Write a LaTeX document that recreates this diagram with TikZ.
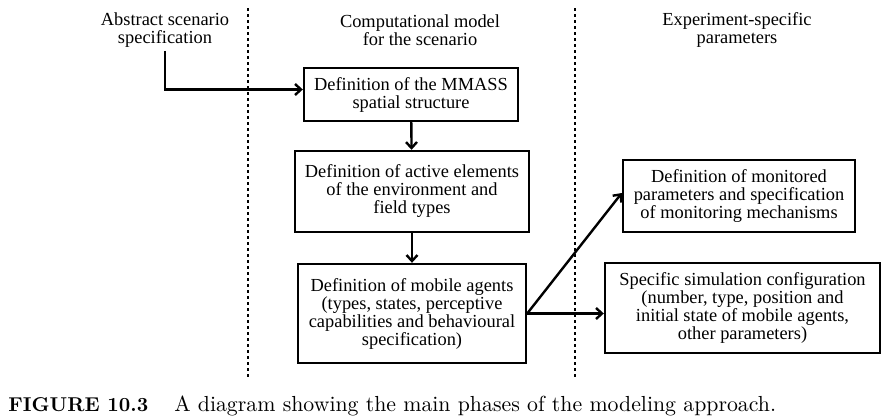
\documentclass[tikz,border=0pt]{standalone}
\usepackage{xcolor}
\usepackage{fontspec}
\usetikzlibrary{arrows.meta}
\newfontfamily\diagfont{Liberation Serif}

\tikzset{
  phase/.style={draw, line width=2.4pt, align=center, inner sep=2pt,
    font=\diagfont\fontsize{18.4}{18}\selectfont},
  header/.style={align=center, font=\diagfont\fontsize{18.4}{18}\selectfont},
  flow/.style={line width=2.4pt, -{Straight Barb[length=6pt,width=11pt]}},
  border/.style={line width=2.6pt, dash pattern=on 3.3pt off 2.7pt}
}

\begin{document}
\begin{tikzpicture}[x=1pt,y=-1pt]
\useasboundingbox (0,0) rectangle (884,418);

\node[header] (abstract) at (165,30) {Abstract scenario\\specification};
\node[header] (model) at (420,30) {Computational model\\for the scenario};
\node[header] (experiment) at (737,30) {Experiment-specific\\parameters};

\coordinate (sepAtop) at (248,8);
\coordinate (sepAbot) at (248,378);
\coordinate (sepBtop) at (575,8);
\coordinate (sepBbot) at (575,378);
\draw[border] (sepAtop) -- (sepAbot);
\draw[border] (sepBtop) -- (sepBbot);

\node[phase, minimum width=214pt, minimum height=53pt] (mmass) at (411,94.5)
  {Definition of the MMASS\\spatial structure};
\node[phase, minimum width=234pt, minimum height=81pt] (active) at (412,191.5)
  {Definition of active elements\\of the environment and\\field types};
\node[phase, minimum width=228pt, minimum height=99pt] (agents) at (412,313.5)
  {Definition of mobile agents\\(types, states, perceptive\\capabilities and behavioural\\specification)};
\node[phase, minimum width=232pt, minimum height=72pt] (monitor) at (739,196)
  {Definition of monitored\\parameters and specification\\of monitoring mechanisms};
\node[phase, minimum width=275pt, minimum height=90pt] (config) at (742.5,308)
  {Specific simulation configuration\\(number, type, position and\\initial state of mobile agents,\\other parameters)};

\draw[flow] (abstract.south) |- ([yshift=5pt]mmass.west);
\draw[flow] (mmass) -- (active);
\draw[flow] (active) -- (agents);
\draw[flow] (agents.east) -- ([yshift=3pt]monitor.west);
\draw[flow] (agents.east) -- (agents.east -| config.west);

\node[anchor=base west, inner sep=0pt, scale=2, font=\fontsize{10}{12}\selectfont] (caption) at (8,411)
  {\textbf{FIGURE 10.3}\hspace{13pt}{\fontsize{10.9}{12}\selectfont A diagram showing the main phases of the modeling approach.}};
\end{tikzpicture}
\end{document}
